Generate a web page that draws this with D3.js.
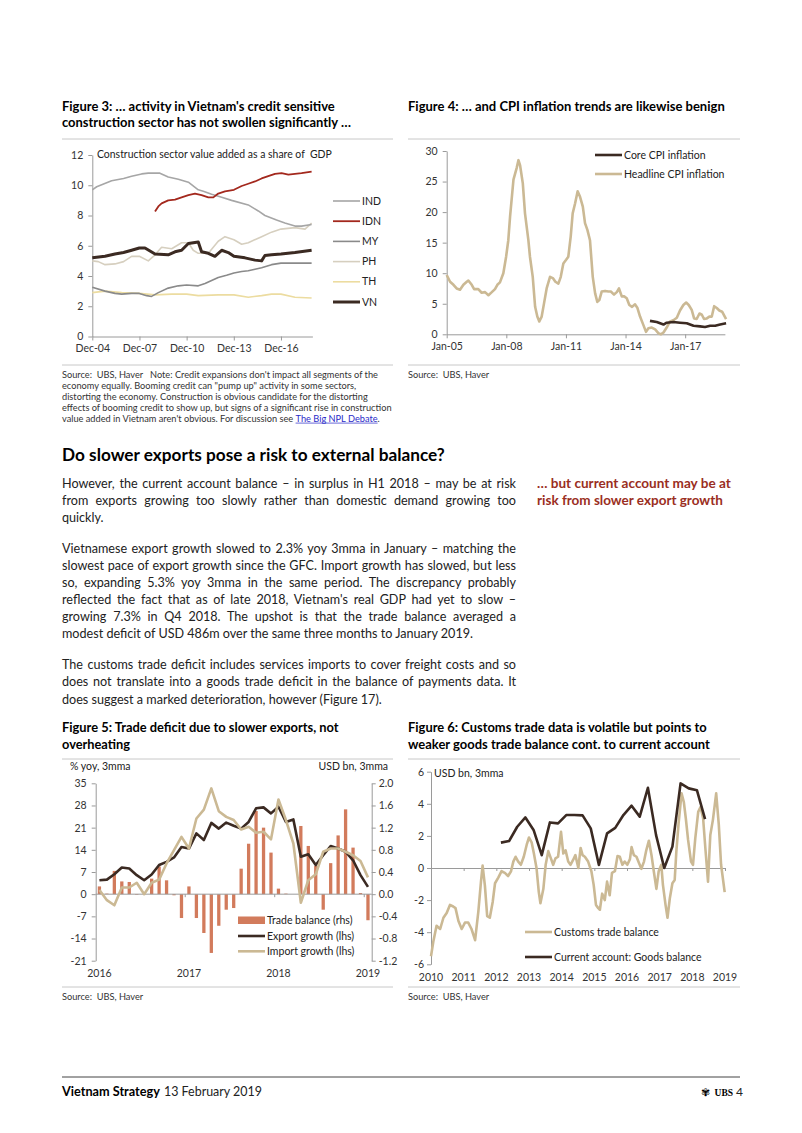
<!DOCTYPE html>
<html><head><meta charset="utf-8">
<script src="https://cdn.jsdelivr.net/npm/d3@7"></script>
<style>body{margin:0;background:#fff}svg{display:block}text{white-space:pre}</style>
</head><body>
<svg id="page" width="802" height="1133"></svg>
<script>
// ---------------- DATA ----------------
// Figure 3: construction value added, % of GDP  [decimal year, value]
const fig3Series = ["IND","IDN","MY","PH","TH","VN"];
const fig3IND = [[2004.92,9.7],[2005.2,9.9],[2006.15,10.3],[2006.91,10.45],[2007.42,10.6],[2008.06,10.75],[2008.48,10.8],[2009.22,10.8],[2009.75,10.55],[2010.39,10.4],[2011.03,10.2],[2011.66,9.7],[2011.98,9.6],[2012.51,9.4],[2013.15,9.2],[2013.78,9.0],[2014.84,8.7],[2015.48,8.3],[2015.9,8.0],[2016.64,7.7],[2017.17,7.5],[2017.81,7.3],[2018.23,7.3],[2018.87,7.4]];
const fig3IDN = [[2008.91,8.26],[2009.12,8.6],[2009.33,8.8],[2009.75,9.0],[2010.18,9.05],[2010.6,9.2],[2011.03,9.35],[2011.45,9.45],[2011.87,9.35],[2012.3,9.2],[2012.62,9.2],[2012.93,9.45],[2013.36,9.6],[2013.93,9.7],[2014.42,9.95],[2014.84,10.1],[2015.27,10.25],[2015.69,10.45],[2016.11,10.6],[2016.54,10.75],[2016.96,10.8],[2017.39,10.7],[2017.81,10.75],[2018.23,10.8],[2018.87,10.9]];
const fig3MY = [[2004.92,3.25],[2005.73,3.0],[2006.36,2.85],[2006.79,2.8],[2007.42,2.85],[2007.91,2.85],[2008.38,2.7],[2008.69,2.65],[2009.12,2.9],[2009.75,3.2],[2010.39,3.35],[2010.92,3.4],[2011.66,3.35],[2012.09,3.5],[2012.51,3.7],[2012.93,3.9],[2013.46,4.05],[2013.93,4.2],[2014.42,4.3],[2014.84,4.35],[2015.27,4.45],[2015.69,4.55],[2016.32,4.75],[2016.92,4.85],[2017.81,4.85],[2018.87,4.85]];
const fig3PH = [[2004.92,5.0],[2005.3,4.95],[2005.73,4.75],[2006.36,4.8],[2006.91,4.95],[2007.42,5.3],[2007.91,5.3],[2008.48,5.0],[2008.91,5.4],[2009.33,5.9],[2009.97,5.8],[2010.6,6.2],[2011.03,6.2],[2011.34,5.7],[2011.66,5.5],[2012.3,5.5],[2012.93,6.3],[2013.36,6.6],[2013.93,6.4],[2014.42,6.1],[2014.84,6.2],[2015.69,6.6],[2016.32,6.9],[2016.92,7.1],[2017.81,7.2],[2018.45,7.1],[2018.87,7.5]];
const fig3TH = [[2004.92,2.9],[2005.73,3.0],[2006.79,2.9],[2007.91,2.85],[2008.91,2.75],[2009.97,2.8],[2010.92,2.8],[2011.66,2.7],[2012.93,2.75],[2013.93,2.75],[2014.84,2.6],[2015.69,2.7],[2016.32,2.8],[2016.92,2.8],[2017.81,2.6],[2018.87,2.55]];
const fig3VN = [[2004.92,5.2],[2005.73,5.3],[2006.36,5.45],[2006.91,5.55],[2007.42,5.7],[2007.91,5.85],[2008.27,5.85],[2008.91,5.45],[2009.75,5.4],[2010.18,5.6],[2010.6,5.7],[2011.03,6.15],[2011.66,6.25],[2011.87,5.6],[2012.3,5.5],[2012.72,5.3],[2013.15,5.7],[2013.57,5.55],[2013.93,5.3],[2014.63,5.2],[2015.27,5.05],[2015.69,5.0],[2015.9,5.35],[2016.32,5.4],[2016.92,5.45],[2017.81,5.55],[2018.87,5.7]];
const fig3YTicks = [0,2,4,6,8,10,12];
const fig3XTicks = [2004.92,2007.92,2010.92,2013.92,2016.92];
const fig3XLabels = ["Dec-04","Dec-07","Dec-10","Dec-13","Dec-16"];

// Figure 4: CPI inflation, % yoy
const fig4Headline = [[2005.0,9.7],[2005.17,8.6],[2005.34,8.1],[2005.5,7.5],[2005.67,7.3],[2005.84,8.1],[2006.01,8.6],[2006.09,8.8],[2006.26,8.1],[2006.38,7.4],[2006.59,7.4],[2006.76,6.8],[2006.93,6.9],[2007.1,6.4],[2007.27,6.9],[2007.43,7.4],[2007.55,8.1],[2007.68,8.5],[2007.85,10.0],[2007.99,12.7],[2008.1,15.4],[2008.19,19.3],[2008.36,25.3],[2008.52,27.2],[2008.61,28.5],[2008.69,27.7],[2008.83,24.7],[2008.94,19.8],[2009.11,15.4],[2009.19,12.7],[2009.33,9.4],[2009.45,4.5],[2009.56,2.9],[2009.66,2.1],[2009.78,2.9],[2009.9,5.1],[2010.03,7.5],[2010.2,9.4],[2010.34,9.2],[2010.47,8.6],[2010.62,8.3],[2010.74,9.4],[2010.87,11.6],[2011.01,12.2],[2011.12,12.7],[2011.24,16.0],[2011.34,19.8],[2011.46,21.4],[2011.59,23.4],[2011.71,22.5],[2011.85,20.9],[2011.96,18.2],[2012.08,17.1],[2012.21,15.4],[2012.35,9.4],[2012.47,6.7],[2012.58,5.3],[2012.68,5.6],[2012.8,7.0],[2012.97,7.1],[2013.14,7.0],[2013.26,7.0],[2013.42,6.5],[2013.56,6.9],[2013.67,7.5],[2013.81,6.2],[2013.93,6.2],[2014.06,5.9],[2014.19,4.8],[2014.33,4.5],[2014.48,4.9],[2014.6,4.3],[2014.73,2.9],[2014.9,1.5],[2015.03,0.4],[2015.15,1.0],[2015.32,1.1],[2015.49,0.8],[2015.65,0.2],[2015.77,0.0],[2015.91,0.3],[2016.07,1.1],[2016.24,2.1],[2016.41,2.3],[2016.58,2.7],[2016.74,3.9],[2016.91,4.8],[2017.05,5.2],[2017.18,4.8],[2017.33,4.0],[2017.45,2.6],[2017.58,2.5],[2017.72,3.4],[2017.84,3.2],[2017.95,2.5],[2018.09,2.6],[2018.22,2.9],[2018.34,2.9],[2018.46,4.6],[2018.59,4.3],[2018.72,3.9],[2018.86,3.7],[2018.96,3.1],[2019.06,2.5]];
const fig4Core = [[2015.23,2.2],[2015.57,2.0],[2015.91,1.6],[2016.07,1.9],[2016.41,2.0],[2016.74,1.9],[2017.08,1.8],[2017.42,1.4],[2017.75,1.3],[2018.0,1.2],[2018.26,1.4],[2018.51,1.4],[2018.76,1.6],[2019.06,1.8]];
const fig4YTicks = [0,5,10,15,20,25,30];
const fig4XTicks = [2005,2008,2011,2014,2017];
const fig4XLabels = ["Jan-05","Jan-08","Jan-11","Jan-14","Jan-17"];

// Figure 5: monthly, Jan 2016 - Jan 2019
const fig5Months = ["2016-01","2016-02","2016-03","2016-04","2016-05","2016-06","2016-07","2016-08","2016-09","2016-10","2016-11","2016-12","2017-01","2017-02","2017-03","2017-04","2017-05","2017-06","2017-07","2017-08","2017-09","2017-10","2017-11","2017-12","2018-01","2018-02","2018-03","2018-04","2018-05","2018-06","2018-07","2018-08","2018-09","2018-10","2018-11","2018-12","2019-01"];
const fig5Trade = [0.14,0.01,0.42,0.23,0.22,-0.01,0.0,0.28,0.50,0.25,-0.02,-0.43,0.14,-0.43,-0.70,-1.06,-0.57,-0.28,-0.25,0.46,0.91,1.50,1.20,0.75,0.10,0.01,0.0,1.23,0.87,0.51,-0.28,0.56,1.06,1.53,0.84,0.02,-0.47];
const fig5Export = [4.4,4.6,6.3,8.4,8.1,6.0,4.4,6.2,9.2,10.2,11.6,14.9,14.4,19.2,17.1,22.5,20.7,22.6,21.6,20.7,22.8,27.1,27.4,25.5,27.6,22.8,23.6,11.8,12.6,9.2,12.3,15.2,14.4,13.4,10.7,6.0,2.3];
const fig5Import = [1.3,-1.9,-3.5,2.1,2.1,3.6,0.0,3.6,4.6,9.7,13.9,18.1,14.4,23.9,26.7,33.4,26.2,24.4,23.4,20.4,21.3,19.4,19.7,17.3,29.9,23.4,16.0,-2.7,4.4,6.3,13.4,14.4,14.4,13.4,12.3,10.5,5.3];
const fig5LTicks = [-21,-14,-7,0,7,14,21,28,35];
const fig5RTicks = [-1.2,-0.8,-0.4,0.0,0.4,0.8,1.2,1.6,2.0];
const fig5YearMonths = ["2016-01","2017-01","2018-01","2019-01"];
const fig5YearLabels = ["2016","2017","2018","2019"];

// Figure 6: USD bn, 3mma
const fig6Customs = [[2010.0,-5.5],[2010.07,-4.6],[2010.17,-3.6],[2010.28,-3.8],[2010.38,-3.1],[2010.48,-2.8],[2010.58,-2.3],[2010.68,-2.4],[2010.75,-2.5],[2010.84,-3.3],[2010.94,-3.8],[2011.04,-3.4],[2011.14,-3.4],[2011.24,-3.8],[2011.35,-4.5],[2011.45,-2.7],[2011.53,-0.85],[2011.58,0.15],[2011.65,-1.1],[2011.72,-3.0],[2011.8,-3.1],[2011.89,-2.1],[2011.96,-0.95],[2012.06,-0.6],[2012.16,-0.2],[2012.26,-0.3],[2012.36,-0.5],[2012.45,-0.2],[2012.52,0.4],[2012.59,0.7],[2012.67,0.4],[2012.75,0.2],[2012.84,0.7],[2012.93,1.45],[2013.0,1.9],[2013.08,1.6],[2013.15,0.9],[2013.23,0.0],[2013.3,-1.5],[2013.35,-2.2],[2013.44,-1.3],[2013.51,0.2],[2013.59,1.05],[2013.67,0.6],[2013.74,0.2],[2013.81,0.6],[2013.89,0.7],[2013.98,2.25],[2014.05,0.9],[2014.12,1.1],[2014.2,0.4],[2014.27,0.2],[2014.35,0.5],[2014.42,0.8],[2014.51,0.0],[2014.58,1.25],[2014.64,0.8],[2014.71,0.7],[2014.81,0.4],[2014.91,-0.2],[2014.98,-1.05],[2015.05,-2.3],[2015.12,-2.5],[2015.17,-2.6],[2015.24,-1.6],[2015.32,-2.0],[2015.39,-0.85],[2015.47,-1.7],[2015.54,-0.3],[2015.63,-0.2],[2015.71,0.75],[2015.78,0.7],[2015.86,0.2],[2015.93,0.4],[2016.01,0.2],[2016.09,0.55],[2016.14,1.3],[2016.21,0.8],[2016.29,0.7],[2016.37,0.3],[2016.44,-0.05],[2016.52,0.4],[2016.59,1.1],[2016.67,1.7],[2016.75,0.8],[2016.82,-0.2],[2016.9,-1.3],[2016.97,-0.2],[2017.05,0.2],[2017.1,-1.05],[2017.18,-2.3],[2017.24,-3.1],[2017.31,-1.9],[2017.39,-0.95],[2017.46,-0.75],[2017.51,1.0],[2017.58,2.8],[2017.67,4.65],[2017.74,4.1],[2017.8,3.1],[2017.87,1.75],[2017.96,0.4],[2018.02,0.2],[2018.09,1.85],[2018.18,3.5],[2018.25,3.8],[2018.33,3.1],[2018.4,1.2],[2018.48,-0.85],[2018.55,2.05],[2018.63,3.0],[2018.73,4.65],[2018.81,2.7],[2018.88,0.2],[2018.99,-1.5]];
const fig6Quarters = ["2012Q1","2012Q2","2012Q3","2012Q4","2013Q1","2013Q2","2013Q3","2013Q4","2014Q1","2014Q2","2014Q3","2014Q4","2015Q1","2015Q2","2015Q3","2015Q4","2016Q1","2016Q2","2016Q3","2016Q4","2017Q1","2017Q2","2017Q3","2017Q4","2018Q1","2018Q2"];
const fig6CA = [1.58,1.68,2.57,3.15,2.37,0.8,2.84,2.78,3.3,3.3,3.28,2.47,0.19,2.16,2.5,3.3,3.88,3.2,5.0,2.05,0.0,1.33,5.27,4.96,4.85,3.05];
const fig6YTicks = [-6,-4,-2,0,2,4,6];
const fig6XTicks = [2010,2011,2012,2013,2014,2015,2016,2017,2018,2019];

// ---------------- STYLE ----------------
const FONT = "Lato, 'Open Sans', sans-serif";
const AX = "#9a9a9a";
const DARK = "#3b2a22";
const TAN = "#cbb994";
const RED = "#a3281d";
const RULE = "#c8c8c8";
const hy = s => String(s).replace("\u2212","-");
const fmtInt = d => hy(d3.format("d")(d));
const fmt1 = d => hy(d3.format(".1f")(d));

const svg = d3.select("#page");
svg.append("rect").attr("width",802).attr("height",1133).attr("fill","#fff");

function txt(x,y,s,opt={}){
  const t = svg.append("text").attr("x",x).attr("y",y).text(s)
    .attr("font-family",opt.family||FONT).attr("font-size",opt.size||10.5)
    .attr("font-weight",opt.weight||"normal").attr("fill",opt.fill||"#222")
    .attr("text-anchor",opt.anchor||"start");
  if(opt.fit){ const w=t.node().getComputedTextLength(); t.attr("font-size",(opt.size||10.5)*opt.fit/w); }
  return t;
}
function measure(s,size,weight){
  const t = svg.append("text").attr("font-family",FONT).attr("font-size",size).attr("font-weight",weight||"normal").text(s);
  const w = t.node().getComputedTextLength(); t.remove(); return w;
}
function rule(x1,x2,y,c=RULE,w=1){ svg.append("line").attr("x1",x1).attr("x2",x2).attr("y1",y).attr("y2",y).attr("stroke",c).attr("stroke-width",w); }
function styleAxis(g,size=10.5){
  g.select(".domain").attr("stroke",AX);
  g.selectAll(".tick line").attr("stroke",AX);
  g.selectAll(".tick text").attr("fill","#333").attr("font-size",size).attr("font-family",FONT);
}
function drawLine(data,x,y,color,w){
  svg.append("path").datum(data).attr("fill","none").attr("stroke",color).attr("stroke-width",w)
    .attr("stroke-linejoin","round").attr("stroke-linecap","butt")
    .attr("d",d3.line().x(d=>x(d[0])).y(d=>y(d[1])));
}

const SRC = 8*330/measure("effects of booming credit to show up, but signs of a significant rise in construction",8);

// ---------------- FIGURE 3 ----------------
txt(62,110.5,"Figure 3: … activity in Vietnam's credit sensitive",{weight:"bold",size:11,fill:"#000",fit:273});
txt(62,127,"construction sector has not swollen significantly …",{weight:"bold",size:11,fill:"#000",fit:289});
rule(62,393,139);
const x3 = d3.scaleLinear().domain([2004.92,2018.92]).range([92.3,312.4]);
const y3 = d3.scaleLinear().domain([0,12]).range([336.5,155]);
const g3y = svg.append("g").attr("transform","translate(92.3,0)")
  .call(d3.axisLeft(y3).tickValues(fig3YTicks).tickSize(4).tickSizeOuter(0).tickPadding(5).tickFormat(fmtInt));
styleAxis(g3y);
const g3x = svg.append("g").attr("transform","translate(0,336.5)")
  .call(d3.axisBottom(x3).tickValues(fig3XTicks).tickFormat((d,i)=>fig3XLabels[i]).tickSize(4).tickSizeOuter(0).tickPadding(4));
styleAxis(g3x);
txt(97,157.5,"Construction sector value added as a share of  GDP",{size:10,fill:"#222",fit:235});
const fig3Data = [fig3IND,fig3IDN,fig3MY,fig3PH,fig3TH,fig3VN];
const fig3Colors = ["#a6a6a6",RED,"#8a8a8a","#d6cfbf","#ecdca0",DARK];
const fig3Widths = [1.6,1.8,1.6,1.6,1.6,3];
[4,3,2,0,1,5].forEach(i=>drawLine(fig3Data[i],x3,y3,fig3Colors[i],fig3Widths[i]));
fig3Series.forEach((s,i)=>{
  const yy = 201 + i*20.2;
  svg.append("line").attr("x1",333).attr("x2",360).attr("y1",yy).attr("y2",yy).attr("stroke",fig3Colors[i]).attr("stroke-width",fig3Widths[i]);
  txt(362,yy+3.6,s,{size:10.5});
});
rule(62,393,365);
const src3 = ["Source:  UBS, Haver   Note: Credit expansions don't impact all segments of the",
  "economy equally. Booming credit can \"pump up\" activity in some sectors,",
  "distorting the economy. Construction is obvious candidate for the distorting",
  "effects of booming credit to show up, but signs of a significant rise in construction"];
src3.forEach((s,i)=>txt(62,378+i*10.9,s,{size:SRC,fill:"#333"}));
const lastY = 378+4*10.9;
const lastSrc = txt(62,lastY,"value added in Vietnam aren't obvious. For discussion see ",{size:SRC,fill:"#333"});
const lw = lastSrc.node().getComputedTextLength();
const link = txt(62+lw,lastY,"The Big NPL Debate",{size:SRC,fill:"#2a2ac8"});
const lkw = link.node().getComputedTextLength();
svg.append("line").attr("x1",62+lw).attr("x2",62+lw+lkw).attr("y1",lastY+1.5).attr("y2",lastY+1.5).attr("stroke","#2a2ac8").attr("stroke-width",0.7);
txt(62+lw+lkw,lastY,".",{size:SRC,fill:"#333"});

// ---------------- FIGURE 4 ----------------
txt(408,110.5,"Figure 4: … and CPI inflation trends are likewise benign",{weight:"bold",size:11,fill:"#000",fit:317});
rule(408,740,139);
const x4 = d3.scaleLinear().domain([2005,2019]).range([446.7,724.9]);
const y4 = d3.scaleLinear().domain([0,30]).range([334.3,151]);
const g4y = svg.append("g").attr("transform","translate(446.7,0)")
  .call(d3.axisLeft(y4).tickValues(fig4YTicks).tickSize(4).tickSizeOuter(0).tickPadding(5).tickFormat(fmtInt));
styleAxis(g4y);
const g4x = svg.append("g").attr("transform","translate(0,334.3)")
  .call(d3.axisBottom(x4).tickValues(fig4XTicks).tickFormat((d,i)=>fig4XLabels[i]).tickSize(4).tickSizeOuter(0).tickPadding(4));
styleAxis(g4x);
drawLine(fig4Headline,x4,y4,TAN,2.6);
drawLine(fig4Core,x4,y4,DARK,2.6);
[["Core CPI inflation",DARK],["Headline CPI inflation",TAN]].forEach((d,i)=>{
  const yy = 155 + i*19;
  svg.append("line").attr("x1",595).attr("x2",622).attr("y1",yy).attr("y2",yy).attr("stroke",d[1]).attr("stroke-width",2.6);
  txt(624,yy+3.6,d[0],{size:10.5});
});
rule(408,740,365);
txt(408,378,"Source:  UBS, Haver",{size:SRC,fill:"#333"});

// ---------------- TEXT SECTION ----------------
txt(62,460.5,"Do slower exports pose a risk to external balance?",{weight:"bold",size:16,fill:"#000",fit:383});
const paras = [
  ["However, the current account balance – in surplus in H1 2018 – may be at risk",
   "from exports growing too slowly rather than domestic demand growing too",
   "quickly."],
  ["Vietnamese export growth slowed to 2.3% yoy 3mma in January – matching the",
   "slowest pace of export growth since the GFC. Import growth has slowed, but less",
   "so, expanding 5.3% yoy 3mma in the same period. The discrepancy probably",
   "reflected the fact that as of late 2018, Vietnam's real GDP had yet to slow –",
   "growing 7.3% in Q4 2018. The upshot is that the trade balance averaged a",
   "modest deficit of USD 486m over the same three months to January 2019."],
  ["The customs trade deficit includes services imports to cover freight costs and so",
   "does not translate into a goods trade deficit in the balance of payments data. It",
   "does suggest a marked deterioration, however (Figure 17)."]
];
const BODY_W = 454;
const longest = d3.max(paras.flat(),s=>measure(s,12));
const BODY = Math.min(12.6, 12*(BODY_W-6)/longest);
const paraTops = [487.8,552.6,669.3];
paras.forEach((p,pi)=>p.forEach((line,li)=>{
  const t = txt(62,paraTops[pi]+li*17.15,line,{size:BODY,fill:"#222"});
  if(li<p.length-1){
    const w = t.node().getComputedTextLength();
    const n = (line.match(/ /g)||[]).length;
    t.attr("word-spacing",(BODY_W-w)/n);
  }
}));
txt(537,487.8,"… but current account may be at",{weight:"bold",size:12,fill:"#9a2e22",fit:194});
txt(537,505,"risk from slower export growth",{weight:"bold",size:12,fill:"#9a2e22",fit:186});

// ---------------- FIGURE 5 ----------------
txt(62,732,"Figure 5: Trade deficit due to slower exports, not",{weight:"bold",size:11,fill:"#000",fit:277});
txt(62,748.5,"overheating",{weight:"bold",size:11,fill:"#000",fit:68});
rule(62,393,759);
const x5 = d3.scaleBand().domain(fig5Months).range([95.7,371.7]).paddingInner(0.56).paddingOuter(0.28);
const yL = d3.scaleLinear().domain([-21,35]).range([960.7,783.3]);
const yR = d3.scaleLinear().domain([-1.2,2.0]).range([960.7,783.3]);
const cx5 = m => x5(m)+x5.bandwidth()/2;
txt(70,770,"% yoy, 3mma",{size:10.5});
txt(388,770,"USD bn, 3mma",{size:10.5,anchor:"end"});
svg.append("g").selectAll("rect").data(fig5Months).join("rect")
  .attr("x",m=>x5(m)).attr("width",x5.bandwidth())
  .attr("y",(m,i)=>yR(Math.max(0,fig5Trade[i])))
  .attr("height",(m,i)=>Math.abs(yR(fig5Trade[i])-yR(0)))
  .attr("fill","#d27b5c");
const g5l = svg.append("g").attr("transform","translate(95.7,0)")
  .call(d3.axisLeft(yL).tickValues(fig5LTicks).tickSize(4).tickSizeOuter(0).tickPadding(5).tickFormat(fmtInt));
styleAxis(g5l);
const g5r = svg.append("g").attr("transform","translate(371.7,0)")
  .call(d3.axisRight(yR).tickValues(fig5RTicks).tickSize(4).tickSizeOuter(0).tickPadding(3).tickFormat(fmt1));
styleAxis(g5r);
svg.append("line").attr("x1",95.7).attr("x2",371.7).attr("y1",yL(0)).attr("y2",yL(0)).attr("stroke",AX);
const gap5 = x5.step()-x5.bandwidth();
fig5YearMonths.slice(1).forEach(m=>{
  const bx = x5(m)-gap5/2;
  svg.append("line").attr("x1",bx).attr("x2",bx).attr("y1",yL(0)).attr("y2",yL(0)+3).attr("stroke",AX);
});
const exp5 = fig5Months.map((m,i)=>[m,fig5Export[i]]);
const imp5 = fig5Months.map((m,i)=>[m,fig5Import[i]]);
const line5 = d3.line().x(d=>cx5(d[0])).y(d=>yL(d[1]));
svg.append("path").datum(exp5).attr("d",line5).attr("fill","none").attr("stroke",DARK).attr("stroke-width",2.6).attr("stroke-linejoin","round");
svg.append("path").datum(imp5).attr("d",line5).attr("fill","none").attr("stroke",TAN).attr("stroke-width",2.6).attr("stroke-linejoin","round");
fig5YearMonths.forEach((m,i)=>txt(cx5(m),977,fig5YearLabels[i],{size:10.5,anchor:"middle",fill:"#333"}));
svg.append("rect").attr("x",238).attr("y",916.5).attr("width",27).attr("height",7.5).attr("fill","#d27b5c");
txt(267,924,"Trade balance (rhs)",{size:10.5});
[["Export growth (lhs)",DARK],["Import growth (lhs)",TAN]].forEach((d,i)=>{
  const yy = 936 + i*15.3;
  svg.append("line").attr("x1",238).attr("x2",265).attr("y1",yy).attr("y2",yy).attr("stroke",d[1]).attr("stroke-width",2.6);
  txt(267,yy+3.6,d[0],{size:10.5});
});
rule(62,393,987);
txt(62,1000,"Source:  UBS, Haver",{size:SRC,fill:"#333"});

// ---------------- FIGURE 6 ----------------
txt(408,732,"Figure 6: Customs trade data is volatile but points to",{weight:"bold",size:11,fill:"#000",fit:299});
txt(408,748.5,"weaker goods trade balance cont. to current account",{weight:"bold",size:11,fill:"#000",fit:302});
rule(408,740,759);
const x6 = d3.scaleLinear().domain([2010,2019]).range([431,725]);
const y6 = d3.scaleLinear().domain([-6,6]).range([964.3,771.7]);
const g6y = svg.append("g").attr("transform","translate(431,0)")
  .call(d3.axisLeft(y6).tickValues(fig6YTicks).tickSize(4).tickSizeOuter(0).tickPadding(3).tickFormat(fmtInt));
styleAxis(g6y);
const g6x = svg.append("g").attr("transform",`translate(0,${y6(0)})`)
  .call(d3.axisBottom(x6).tickValues(fig6XTicks).tickSize(3).tickSizeOuter(0).tickFormat(""));
styleAxis(g6x);
fig6XTicks.forEach(t=>txt(x6(t),981,String(t),{size:10.5,anchor:"middle",fill:"#333"}));
txt(434,776.5,"USD bn, 3mma",{size:10.5});
drawLine(fig6Customs,x6,y6,TAN,2.6);
const ca = fig6Quarters.map((q,i)=>[+q.slice(0,4)+(+q.slice(5)-1)/4+0.14,fig6CA[i]]);
drawLine(ca,x6,y6,DARK,2.6);
[["Customs trade balance",TAN],["Current account: Goods balance",DARK]].forEach((d,i)=>{
  const yy = 932 + i*25;
  svg.append("line").attr("x1",525).attr("x2",552).attr("y1",yy).attr("y2",yy).attr("stroke",d[1]).attr("stroke-width",2.6);
  txt(554,yy+3.6,d[0],{size:10.5});
});
rule(408,740,987);
txt(408,1000,"Source:  UBS, Haver",{size:SRC,fill:"#333"});

// ---------------- FOOTER ----------------
rule(62,740,1077,"#444",1);
txt(62,1096,"Vietnam Strategy",{weight:"bold",size:12,fill:"#000",fit:98});
txt(164,1096,"13 February 2019",{size:12,fill:"#222",fit:98});
txt(743,1096,"4",{size:12,fill:"#222",anchor:"end"});
txt(733,1096,"UBS",{size:9.5,fill:"#000",weight:"bold",family:"'Liberation Serif', serif",anchor:"end"});
txt(701,1096,"✾",{size:11,fill:"#000",family:"DejaVu Sans"});
</script></body></html>
